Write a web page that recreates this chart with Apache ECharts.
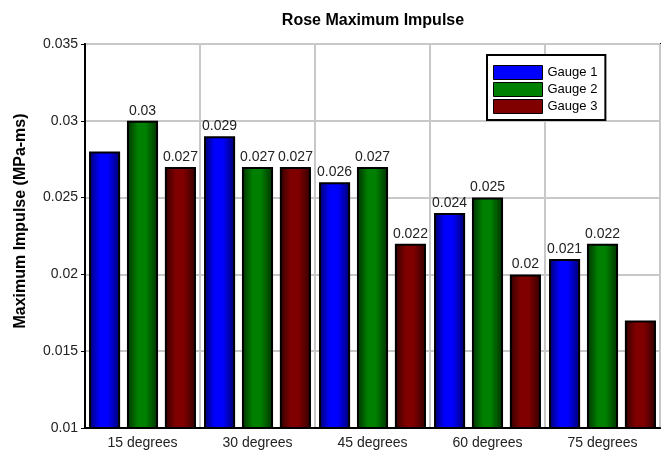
<!DOCTYPE html>
<html><head><meta charset="utf-8">
<script src="https://cdn.jsdelivr.net/npm/echarts@6/dist/echarts.min.js"></script>
<style>html,body{margin:0;padding:0;background:#fff}#c{width:668px;height:455px}</style>
</head><body><div id="c"></div>
<script>
const categories = ['15 degrees','30 degrees','45 degrees','60 degrees','75 degrees'];
const gauge1 = [0.028, 0.029, 0.026, 0.024, 0.021];
const gauge2 = [0.030, 0.027, 0.027, 0.025, 0.022];
const gauge3 = [0.027, 0.027, 0.022, 0.020, 0.017];
const seriesNames = ['Gauge 1','Gauge 2','Gauge 3'];
const yTicks = [0.01, 0.015, 0.02, 0.025, 0.03, 0.035];
// labels not shown in the reference
const hiddenLabels = {'Gauge 1': [0], 'Gauge 2': [], 'Gauge 3': [4]};

const baseColors = ['#0000ff', '#008000', '#800000'];
const darkColors = ['#00006a', '#003000', '#300000'];
function grad(i){
  return new echarts.graphic.LinearGradient(0,0,1,0,[
    {offset:0,color:darkColors[i]},
    {offset:0.35,color:baseColors[i]},
    {offset:0.6,color:baseColors[i]},
    {offset:1,color:darkColors[i]}
  ]);
}
const font = 'Arial, "Liberation Sans", sans-serif';
const allData = [gauge1, gauge2, gauge3];
const chart = echarts.init(document.getElementById('c'));
chart.setOption({
  animation:false,
  backgroundColor:'#fff',
  title:{text:'Rose Maximum Impulse', left:368, textAlign:'center', top:8,
    textStyle:{fontFamily:font,fontSize:16,fontWeight:'bold',color:'#000'}},
  legend:{
    orient:'vertical', left:487, top:55, padding:[10,8,6,6],
    borderColor:'#000', borderWidth:2, backgroundColor:'#fff',
    itemWidth:49, itemHeight:14, itemGap:2,
    textStyle:{fontFamily:font,fontSize:13,color:'#000',padding:[0,0,0,0]},
    data: seriesNames.map((n,i)=>({name:n, icon:'rect', itemStyle:{color:baseColors[i], borderColor:'#000', borderWidth:1}}))
  },
  grid:{left:85, right:8, top:44, bottom:27, show:true, borderColor:'#000', borderWidth:2},
  xAxis:{type:'category', data:categories,
    axisLine:{show:true, lineStyle:{color:'#000', width:2}},
    axisTick:{show:false},
    axisLabel:{fontFamily:font, fontSize:14, color:'#222', margin:8},
    splitLine:{show:true, lineStyle:{color:'#c8c8c8', width:2}}
  },
  yAxis:{type:'value', min:yTicks[0], max:yTicks[yTicks.length-1], interval:0.005,
    name:'Maximum Impulse (MPa-ms)', nameLocation:'middle', nameGap:56,
    nameTextStyle:{fontFamily:font, fontSize:16, fontWeight:'bold', color:'#000', padding:[0,0,0,30]},
    axisLine:{show:true, lineStyle:{color:'#000', width:2}},
    axisTick:{show:true, length:4, lineStyle:{color:'#000'}},
    axisLabel:{fontFamily:font, fontSize:14, color:'#222', margin:7, formatter:v=>String(+v.toFixed(3))},
    splitLine:{show:true, lineStyle:{color:'#c8c8c8', width:2}}
  },
  series: seriesNames.map((n,i)=>({
    name:n, type:'bar', barGap:'22%', barCategoryGap:'7%',
    itemStyle:{color:grad(i), borderColor:'#000', borderWidth:2},
    label:{show:true, position:'top', distance:3, fontFamily:font, fontSize:14, color:'#222'},
    data: allData[i].map((v,j)=> hiddenLabels[n].includes(j) ? {value:v, label:{show:false}} : v)
  }))
});
</script></body></html>
